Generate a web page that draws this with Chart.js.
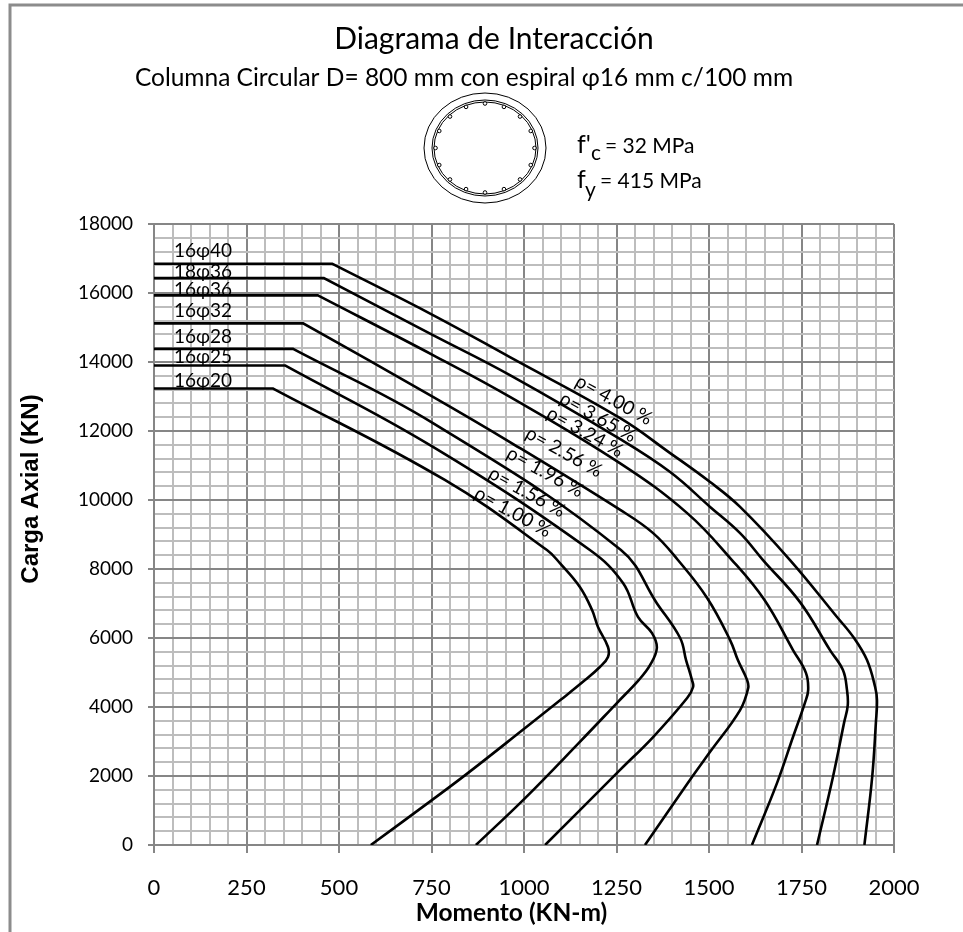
<!DOCTYPE html>
<html>
<head>
<meta charset="utf-8">
<title>Diagrama de Interacción</title>
<script src="https://cdn.jsdelivr.net/npm/chart.js@4"></script>
<style>
  html, body { margin: 0; padding: 0; background: #fff; }
  #wrap { width: 963px; height: 932px; position: relative; overflow: hidden; }
</style>
</head>
<body>
<div id="wrap"><canvas id="chart" width="963" height="932"></canvas></div>
<script>
// Values: moment (KN-m) and axial load (KN) for each curve.
// The corner at the end of the flat part is listed twice so the spline stays sharp there.
const moment100 = [0, 322, 322, 786, 1062, 1097, 1151, 1184, 1200, 1227, 1227, 1205, 1165, 1100, 1003, 849, 751, 586];
const axial100  = [13230, 13230, 13230, 10580, 8550, 8170, 7480, 6810, 6320, 5740, 5450, 5160, 4780, 4215, 3390, 2090, 1300, 0];
const moment156 = [0, 354, 354, 754, 1178, 1268, 1308, 1346, 1359, 1341, 1310, 1251, 1151, 1003, 870];
const axial156  = [13900, 13900, 13900, 11540, 8550, 7590, 6610, 6140, 5710, 5220, 4780, 4115, 2990, 1360, 0];
const moment196 = [0, 376, 376, 754, 1262, 1359, 1422, 1438, 1454, 1457, 1441, 1349, 1259, 1057];
const axial196  = [14380, 14380, 14380, 12230, 8550, 7010, 6000, 5360, 4780, 4580, 4260, 3130, 2170, 0];
const moment256 = [0, 403, 403, 754, 962, 1259, 1349, 1416, 1495, 1557, 1578, 1603, 1606, 1584, 1503, 1454, 1327];
const axial256  = [15120, 15120, 15120, 12990, 11680, 9720, 9040, 8260, 7160, 5940, 5360, 4780, 4550, 3910, 2700, 1970, 0];
const moment324 = [0, 443, 443, 754, 962, 1259, 1441, 1562, 1650, 1727, 1762, 1768, 1759, 1727, 1684, 1616];
const axial324  = [15930, 15930, 15930, 14200, 12990, 11070, 9620, 8260, 7100, 5650, 4990, 4490, 4115, 3130, 1800, 0];
const moment365 = [0, 459, 459, 754, 962, 1259, 1395, 1503, 1584, 1646, 1746, 1827, 1862, 1873, 1875, 1865, 1835, 1792];
const axial365  = [16430, 16430, 16430, 14780, 13620, 11770, 10810, 9800, 9040, 8260, 7040, 5650, 5070, 4490, 4050, 3540, 1970, 0];
const moment400 = [0, 481, 481, 754, 962, 1259, 1395, 1503, 1584, 1719, 1846, 1892, 1927, 1949, 1954, 1951, 1941, 1920];
const axial400  = [16850, 16850, 16850, 15360, 14140, 12380, 11360, 10520, 9800, 8260, 6610, 6000, 5360, 4580, 4200, 3540, 1970, 0];

const curves = [
  [moment100, axial100], [moment156, axial156], [moment196, axial196], [moment256, axial256],
  [moment324, axial324], [moment365, axial365], [moment400, axial400]
];

// Bar layout labels and ratio labels along the curves
const barLabels = ['16φ20', '16φ25', '16φ28', '16φ32', '16φ36', '18φ36', '16φ40'];
const barLabelY = [13450, 14140, 14720, 15480, 16090, 16610, 17220];
const barLabelX = 54;
const rhoLabels = ['ρ= 1.00 %', 'ρ= 1.56 %', 'ρ= 1.96 %', 'ρ= 2.56 %', 'ρ= 3.24 %', 'ρ= 3.65 %', 'ρ= 4.00 %'];
const rhoLabelX = [970, 1008, 1057, 1108, 1165, 1200, 1243];
const rhoLabelY = [9650, 10230, 10810, 11390, 11970, 12400, 12900];

const FONT = 'Lato, Carlito, "Open Sans", sans-serif';
const GRID_MAJOR = '#868686';
const GRID_MINOR = '#bdbdbd';

// Outer frame, section sketch, material text and the free labels
const decorations = {
  id: 'decorations',
  afterLayout(chart) {
    // title and subtitle are not centred on the canvas in the original
    chart.titleBlock.left += 47;
    chart.titleBlock.right += 47;
    const sub = chart.boxes.find(b => b !== chart.titleBlock && b.options && b.options.text);
    if (sub) {
      sub.left += 17;
      sub.right += 17;
    }
  },
  beforeDraw(chart) {
    const c = chart.ctx;
    c.save();
    c.fillStyle = '#fff';
    c.fillRect(0, 0, chart.width, chart.height);
    c.strokeStyle = '#8c8c8c';
    c.lineWidth = 3;
    c.beginPath();
    c.moveTo(10, 932);
    c.lineTo(10, 5);
    c.lineTo(963, 5);
    c.stroke();
    c.restore();
  },
  afterDraw(chart) {
    const c = chart.ctx;
    const xs = chart.scales.x;
    const ys = chart.scales.y;
    c.save();
    c.fillStyle = '#000';
    c.textBaseline = 'middle';
    c.textAlign = 'left';

    c.font = '19px ' + FONT;
    barLabels.forEach((t, i) => {
      c.fillText(t, xs.getPixelForValue(barLabelX), ys.getPixelForValue(barLabelY[i]));
    });

    rhoLabels.forEach((t, i) => {
      c.save();
      c.translate(xs.getPixelForValue(rhoLabelX[i]), ys.getPixelForValue(rhoLabelY[i]));
      c.rotate(29 * Math.PI / 180);
      c.textAlign = 'center';
      c.font = '19px ' + FONT;
      c.fillText(t, 0, 0);
      c.restore();
    });

    // axis titles sit off the plot centre in the original
    c.textAlign = 'center';
    c.font = 'bold 24.5px ' + FONT;
    c.fillText('Momento (KN-m)', 511.5, 913);
    c.save();
    c.translate(31, 489);
    c.rotate(-Math.PI / 2);
    c.font = 'bold 24px "Liberation Sans", Arial, sans-serif';
    c.fillText('Carga Axial (KN)', 0, 0);
    c.restore();

    // section sketch
    c.strokeStyle = '#000';
    c.lineWidth = 1;
    [[61, 55], [53, 48], [51, 46]].forEach(r => {
      c.beginPath();
      c.ellipse(485, 148, r[0], r[1], 0, 0, Math.PI * 2);
      c.stroke();
    });
    for (let i = 0; i < 16; i++) {
      const a = i * Math.PI / 8;
      c.beginPath();
      c.arc(485 + 49.5 * Math.cos(a), 148 + 44.5 * Math.sin(a), 1.8, 0, Math.PI * 2);
      c.fillStyle = '#fff';
      c.fill();
      c.stroke();
    }

    // material strengths
    c.fillStyle = '#000';
    c.textAlign = 'left';
    c.textBaseline = 'alphabetic';
    c.font = '25px ' + FONT;
    c.fillText("f'", 577, 153);
    c.fillText('f', 577, 188);
    c.font = '21px ' + FONT;
    c.fillText('c', 591, 160);
    c.fillText('y', 585, 197);
    c.fillText('= 32 MPa', 605, 153);
    c.fillText('= 415 MPa', 600, 188);
    c.restore();
  }
};

const datasets = curves.map(pair => ({
  data: pair[0].map((m, i) => ({ x: m, y: pair[1][i] })),
  borderColor: '#000',
  borderWidth: 2.6,
  pointRadius: 0,
  tension: 0.4,
  fill: false,
  showLine: true
}));

new Chart(document.getElementById('chart'), {
  type: 'scatter',
  data: { datasets: datasets },
  plugins: [decorations],
  options: {
    responsive: false,
    animation: false,
    layout: { padding: { left: 0, right: 69, top: 0, bottom: 0 } },
    plugins: {
      legend: { display: false },
      tooltip: { enabled: false },
      title: {
        display: true,
        text: 'Diagrama de Interacción',
        color: '#000',
        font: { family: FONT, size: 30, weight: 'normal', lineHeight: '34px' },
        padding: { top: 22, bottom: 0 }
      },
      subtitle: {
        display: true,
        text: 'Columna Circular D= 800 mm con espiral φ16 mm c/100 mm',
        color: '#000',
        font: { family: FONT, size: 24.5, weight: 'normal', lineHeight: '26px' },
        padding: { top: 9, bottom: 133 }
      }
    },
    scales: {
      x: {
        type: 'linear',
        min: 0,
        max: 2000,
        afterFit(scale) { scale.height = 87; },
        border: { color: GRID_MAJOR, width: 2 },
        grid: {
          lineWidth: 2,
          tickLength: 8,
          color: ctx => (ctx.tick.value % 250 === 0 ? GRID_MAJOR : GRID_MINOR),
          tickColor: ctx => (ctx.tick.value % 250 === 0 ? GRID_MAJOR : 'rgba(0,0,0,0)')
        },
        ticks: {
          stepSize: 50,
          autoSkip: false,
          maxRotation: 0,
          padding: 22,
          color: '#000',
          font: { family: FONT, size: 22 },
          callback: v => (v % 250 === 0 ? String(v) : '')
        }
      },
      y: {
        type: 'linear',
        min: 0,
        max: 18000,
        afterFit(scale) { scale.width = 154; },
        border: { color: GRID_MAJOR, width: 2 },
        grid: {
          lineWidth: 2,
          tickLength: 6,
          color: ctx => (ctx.tick.value % 2000 === 0 ? GRID_MAJOR : GRID_MINOR),
          tickColor: ctx => (ctx.tick.value % 2000 === 0 ? GRID_MAJOR : 'rgba(0,0,0,0)')
        },
        ticks: {
          stepSize: 400,
          autoSkip: false,
          padding: 15,
          color: '#000',
          font: { family: FONT, size: 19 },
          callback: v => (v % 2000 === 0 ? String(v) : '')
        }
      }
    }
  }
});
</script>
</body>
</html>
